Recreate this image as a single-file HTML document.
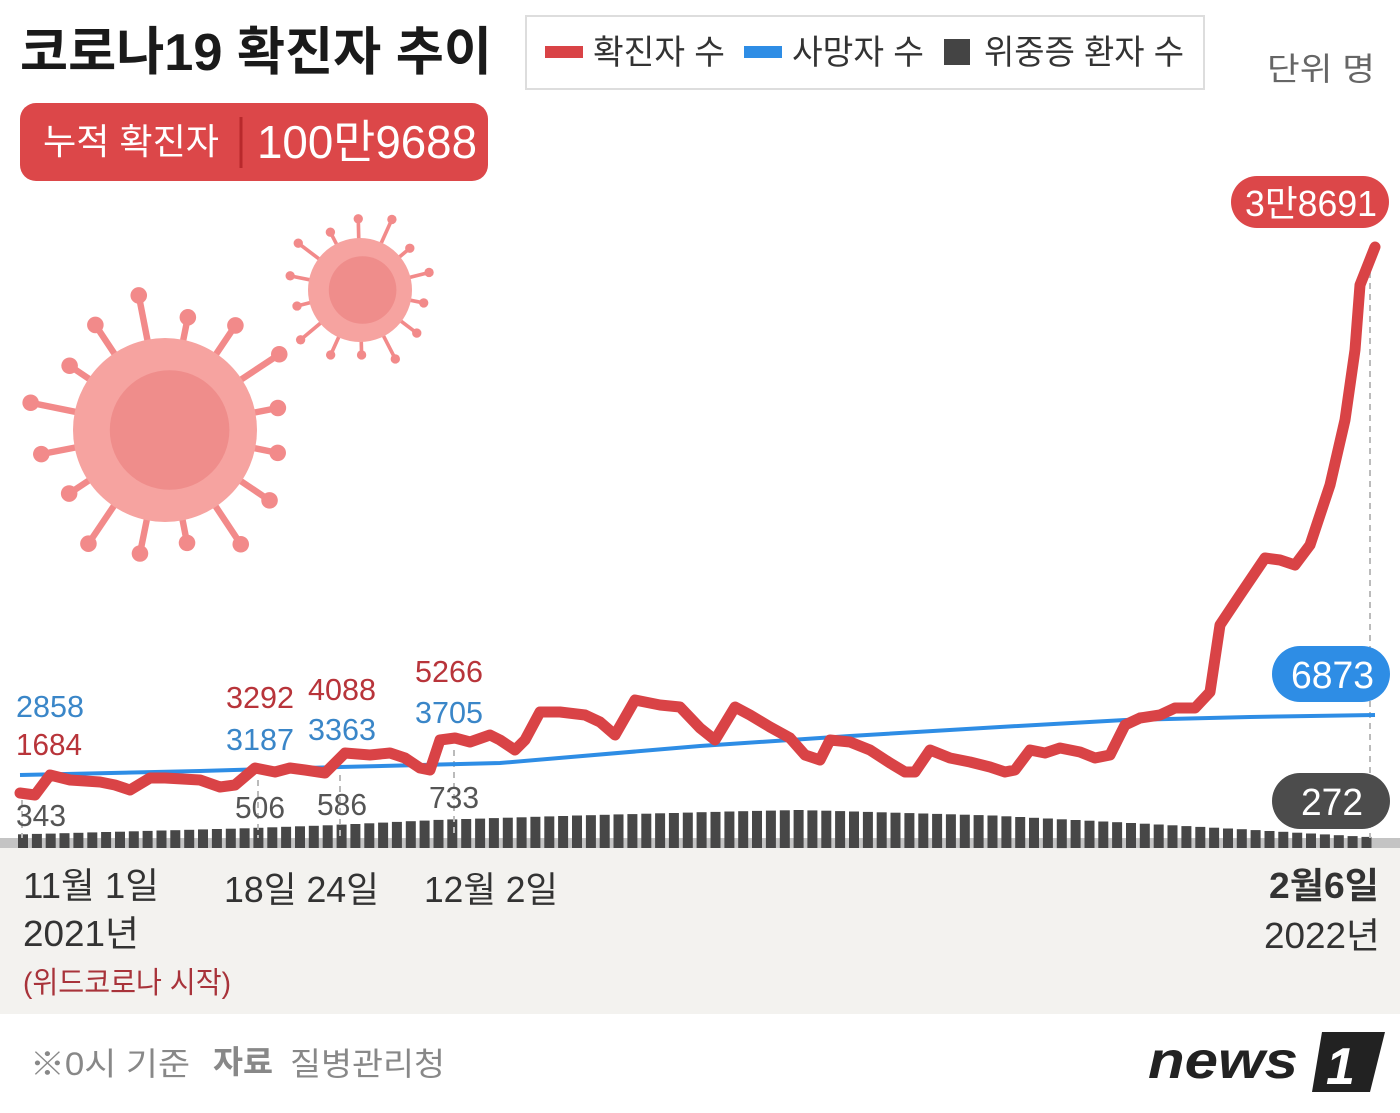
<!DOCTYPE html>
<html><head><meta charset="utf-8"><style>
html,body{margin:0;padding:0;background:#fff}
svg{display:block}
text{font-family:"Liberation Sans","Noto Sans CJK KR",sans-serif}
</style></head><body>
<svg id="s" width="1400" height="1113" viewBox="0 0 1400 1113" xmlns="http://www.w3.org/2000/svg">
<rect width="1400" height="1113" fill="#fff"/>
<rect x="0" y="848" width="1400" height="166" fill="#f3f2ef"/>
<rect x="0" y="838" width="1400" height="10" fill="#c4c4c4"/>

<!-- title -->
<text x="20" y="70" font-size="52" font-weight="bold" fill="#1a1a1a" textLength="472" lengthAdjust="spacingAndGlyphs">코로나19 확진자 추이</text>
<!-- legend -->
<rect x="526" y="16" width="678" height="73" fill="#fff" stroke="#ddd" stroke-width="2"/>
<rect x="545" y="46" width="38" height="12" fill="#d94346"/>
<text x="593" y="64" font-size="34" fill="#333" textLength="132" lengthAdjust="spacingAndGlyphs">확진자 수</text>
<rect x="744" y="46" width="38" height="12" fill="#2e8de5"/>
<text x="792" y="64" font-size="34" fill="#333" textLength="132" lengthAdjust="spacingAndGlyphs">사망자 수</text>
<rect x="944" y="39" width="26" height="26" fill="#444"/>
<text x="984" y="64" font-size="34" fill="#333" textLength="200" lengthAdjust="spacingAndGlyphs">위중증 환자 수</text>
<text x="1267" y="80" font-size="32" fill="#666" textLength="108" lengthAdjust="spacingAndGlyphs">단위 명</text>

<!-- cumulative box -->
<rect x="20" y="103" width="468" height="78" rx="16" fill="#dc4749"/>
<line x1="241" y1="117" x2="241" y2="168" stroke="#b8292c" stroke-width="3"/>
<text x="43" y="154" font-size="36" fill="#fff" textLength="176" lengthAdjust="spacingAndGlyphs">누적 확진자</text>
<text x="257" y="158" font-size="46" fill="#fff" textLength="220" lengthAdjust="spacingAndGlyphs">100만9688</text>

<g id="virus"></g>
<g id="bars"></g>

<!-- dashed guides -->
<g stroke="#bbb" stroke-width="2" stroke-dasharray="6,5">
<line x1="22" y1="800" x2="22" y2="838"/>
<line x1="258" y1="780" x2="258" y2="838"/>
<line x1="340" y1="775" x2="340" y2="838"/>
<line x1="454" y1="750" x2="454" y2="838"/>
<line x1="1370" y1="250" x2="1370" y2="838"/>
</g>

<!-- blue line -->
<polyline fill="none" stroke="#2e8de5" stroke-width="4" points="20,775 200,771 340,767 500,763 700,746 850,736 1000,727 1125,720 1250,717 1375,715"/>
<!-- red line -->
<polyline fill="none" stroke="#d94346" stroke-width="11" stroke-linejoin="round" stroke-linecap="round" points="20,793 35,795 50,775 70,780 100,782 115,785 130,790 150,778 165,778 200,780 220,787 235,785 255,768 275,772 290,768 305,770 325,773 345,753 370,755 390,753 405,758 420,768 430,770 440,740 455,738 470,742 490,735 500,740 515,750 525,740 540,712 560,712 585,715 600,722 615,735 635,700 660,705 680,707 700,728 715,740 735,707 750,715 770,727 790,738 805,755 820,760 830,740 850,742 870,750 890,763 905,772 915,772 930,750 950,758 970,762 990,767 1005,772 1015,770 1030,750 1045,753 1060,748 1080,752 1095,758 1110,755 1125,725 1140,718 1160,715 1175,708 1195,708 1210,692 1220,625 1240,595 1265,558 1280,560 1295,565 1310,545 1330,485 1345,420 1355,350 1360,285 1375,247"/>

<!-- labels -->
<g font-size="31">
<text x="16" y="717" fill="#3a86c8" textLength="68" lengthAdjust="spacingAndGlyphs">2858</text>
<text x="16" y="755" fill="#b8343a" textLength="66" lengthAdjust="spacingAndGlyphs">1684</text>
<text x="16" y="826" fill="#555" textLength="50" lengthAdjust="spacingAndGlyphs">343</text>
<text x="226" y="708" fill="#b8343a" textLength="68" lengthAdjust="spacingAndGlyphs">3292</text>
<text x="226" y="750" fill="#3a86c8" textLength="68" lengthAdjust="spacingAndGlyphs">3187</text>
<text x="235" y="818" fill="#555" textLength="50" lengthAdjust="spacingAndGlyphs">506</text>
<text x="308" y="700" fill="#b8343a" textLength="68" lengthAdjust="spacingAndGlyphs">4088</text>
<text x="308" y="740" fill="#3a86c8" textLength="68" lengthAdjust="spacingAndGlyphs">3363</text>
<text x="317" y="815" fill="#555" textLength="50" lengthAdjust="spacingAndGlyphs">586</text>
<text x="415" y="682" fill="#b8343a" textLength="68" lengthAdjust="spacingAndGlyphs">5266</text>
<text x="415" y="723" fill="#3a86c8" textLength="68" lengthAdjust="spacingAndGlyphs">3705</text>
<text x="429" y="808" fill="#555" textLength="50" lengthAdjust="spacingAndGlyphs">733</text>
</g>

<!-- end pills -->
<rect x="1231" y="176" width="158" height="52" rx="26" fill="#dc4749"/>
<text x="1245" y="216" font-size="36" fill="#fff" textLength="132" lengthAdjust="spacingAndGlyphs">3만8691</text>
<rect x="1272" y="646" width="118" height="56" rx="28" fill="#2e8de5"/>
<text x="1291" y="688" font-size="38" fill="#fff" textLength="83" lengthAdjust="spacingAndGlyphs">6873</text>
<rect x="1272" y="773" width="118" height="56" rx="28" fill="#4c4c4c"/>
<text x="1301" y="815" font-size="38" fill="#fff" textLength="62" lengthAdjust="spacingAndGlyphs">272</text>

<!-- x axis -->
<g font-size="36" fill="#333">
<text x="23" y="898" textLength="136" lengthAdjust="spacingAndGlyphs">11월 1일</text>
<text x="23" y="946" textLength="116" lengthAdjust="spacingAndGlyphs">2021년</text>
<text x="224" y="902" textLength="155" lengthAdjust="spacingAndGlyphs">18일 24일</text>
<text x="424" y="902" textLength="134" lengthAdjust="spacingAndGlyphs">12월 2일</text>
<text x="1269" y="898" font-weight="bold" textLength="110" lengthAdjust="spacingAndGlyphs">2월6일</text>
<text x="1264" y="948" textLength="116" lengthAdjust="spacingAndGlyphs">2022년</text>
</g>
<text x="23" y="993" font-size="30" fill="#a8333a" textLength="208" lengthAdjust="spacingAndGlyphs">(위드코로나 시작)</text>

<!-- footer -->
<text x="30" y="1075" font-size="32" fill="#888" textLength="160" lengthAdjust="spacingAndGlyphs">※0시 기준</text>
<text x="213" y="1073" font-size="32" font-weight="bold" fill="#888" textLength="60" lengthAdjust="spacingAndGlyphs">자료</text>
<text x="290" y="1075" font-size="32" fill="#888" textLength="155" lengthAdjust="spacingAndGlyphs">질병관리청</text>
<text x="1148" y="1078" font-size="52" font-weight="bold" font-style="italic" fill="#222" textLength="150" lengthAdjust="spacingAndGlyphs">news</text>
<path d="M1322 1032 L1385 1032 L1370 1092 L1312 1092 Z" fill="#222"/>
<text x="1326" y="1084" font-size="52" font-weight="bold" font-style="italic" fill="#fff">1</text>
</svg>
<script>
(function(){
var NS="http://www.w3.org/2000/svg";
var b=document.getElementById("bars");
function val(d){
 var k=[[0,343],[16,506],[22,586],[30,733],[40,850],[50,950],[56,1000],[60,960],[70,850],[80,650],[88,480],[97,272]];
 for(var i=0;i<k.length-1;i++){if(d>=k[i][0]&&d<=k[i+1][0]){var t=(d-k[i][0])/(k[i+1][0]-k[i][0]);return k[i][1]+t*(k[i+1][1]-k[i][1]);}}
 return 272;}
for(var d=0;d<98;d++){
 var x=18+d*13.85,h=val(d)*0.037+1;
 var r=document.createElementNS(NS,"rect");
 r.setAttribute("x",x.toFixed(1));r.setAttribute("y",(848-h).toFixed(1));
 r.setAttribute("width","10");r.setAttribute("height",h.toFixed(1));
 r.setAttribute("fill","#474747");b.appendChild(r);}
var v=document.getElementById("virus");
function virus(cx,cy,R,n,op){
 var g=document.createElementNS(NS,"g");g.setAttribute("opacity",op);
 for(var i=0;i<n;i++){var a=i/n*Math.PI*2+0.2,L=R*(1.25+0.12*((i*7)%3));
  var l=document.createElementNS(NS,"line");
  l.setAttribute("x1",cx+Math.cos(a)*R*0.9);l.setAttribute("y1",cy+Math.sin(a)*R*0.9);
  l.setAttribute("x2",cx+Math.cos(a)*L);l.setAttribute("y2",cy+Math.sin(a)*L);
  l.setAttribute("stroke","#f28a8a");l.setAttribute("stroke-width",R*0.07);g.appendChild(l);
  var c=document.createElementNS(NS,"circle");c.setAttribute("cx",cx+Math.cos(a)*L);c.setAttribute("cy",cy+Math.sin(a)*L);
  c.setAttribute("r",R*0.09);c.setAttribute("fill","#f28a8a");g.appendChild(c);}
 var c0=document.createElementNS(NS,"circle");c0.setAttribute("cx",cx);c0.setAttribute("cy",cy);c0.setAttribute("r",R);
 c0.setAttribute("fill","#f6a3a0");g.appendChild(c0);
 var c1=document.createElementNS(NS,"circle");c1.setAttribute("cx",cx+R*0.05);c1.setAttribute("cy",cy);c1.setAttribute("r",R*0.65);
 c1.setAttribute("fill","#ef8d8b");g.appendChild(c1);
 v.appendChild(g);}
virus(165,430,92,16,1);
virus(360,290,52,14,1);
})();
</script>
</body></html>
